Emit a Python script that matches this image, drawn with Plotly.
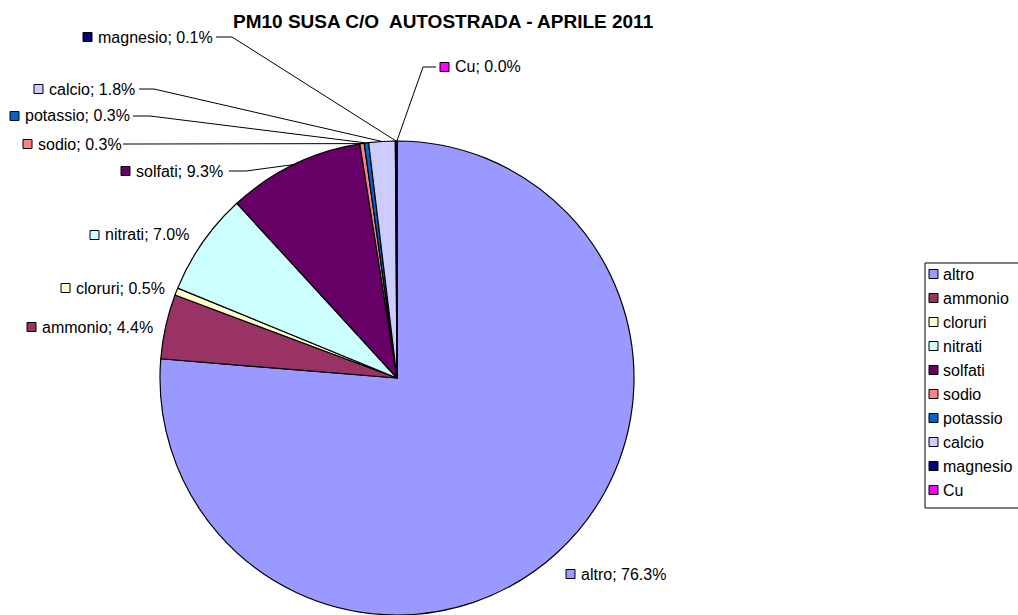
import math
import plotly.graph_objects as go

# ---------------- data ----------------
labels = ["altro", "ammonio", "cloruri", "nitrati", "solfati",
          "sodio", "potassio", "calcio", "magnesio", "Cu"]
values = [76.3, 4.4, 0.5, 7.0, 9.3, 0.3, 0.3, 1.8, 0.1, 0.01]
colors = ["#9999FF", "#993366", "#FFFFCC", "#CCFFFF", "#660066",
          "#FF8080", "#0066CC", "#CCCCFF", "#000080", "#FF00FF"]
title_text = "PM10 SUSA C/O  AUTOSTRADA - APRILE 2011"

# ---------------- layout constants (pixels) ----------------
W, H = 1018, 615
CX, CY, R = 397, 378, 237
FONT = "Liberation Sans, Arial, sans-serif"
LBL_SIZE = 16
SQ = 9

# label placement: square x, text x, y centre, leader (start x, bend x) or None
label_layout = {
    "altro":    (566, 579, 574, None),
    "ammonio":  (27, 40, 327, None),
    "cloruri":  (61, 74, 288, None),
    "nitrati":  (90, 103, 235, None),
    "solfati":  (121, 134, 171, (229, 246)),
    "sodio":    (23, 36, 144, (123, 140)),
    "potassio": (10, 23, 116, (133, 150)),
    "calcio":   (34, 47, 89, (139, 154)),
    "magnesio": (83, 96, 37, (216, 232)),
    "Cu":       (440, 453, 67, (436, 423)),
}
LEG_X, LEG_Y0, LEG_DY = 929, 274, 24
LEG_BOX = (925, 263, 1040, 508)


def px(x):
    return x / W


def py(y):
    return 1 - y / H


total = sum(values)
pcts = [v / total * 100 for v in values]

fig = go.Figure()
fig.add_trace(go.Pie(
    labels=labels, values=values, sort=False, direction="clockwise",
    rotation=0, textinfo="none", hoverinfo="label+percent",
    marker=dict(colors=colors, line=dict(color="black", width=1.2)),
    domain=dict(x=[px(CX - R), px(CX + R)], y=[py(CY + R), py(CY - R)]),
    showlegend=False,
))

shapes = []
annotations = []

# slice labels with leader lines
cum = 0.0
for lab, v, p, col in zip(labels, values, pcts, colors):
    mid = (cum + v / 2) / total
    cum += v
    th = 2 * math.pi * mid
    ex, ey = CX + R * math.sin(th), CY - R * math.cos(th)
    sqx, tx, y, leader = label_layout[lab]
    shapes.append(dict(type="rect", xref="paper", yref="paper",
                       x0=px(sqx), x1=px(sqx + SQ),
                       y0=py(y + SQ / 2), y1=py(y - SQ / 2),
                       fillcolor=col, line=dict(color="black", width=1)))
    annotations.append(dict(xref="paper", yref="paper", x=px(tx), y=py(y),
                            xanchor="left", yanchor="middle", showarrow=False,
                            text=f"{lab}; {p:.1f}%",
                            font=dict(family=FONT, size=LBL_SIZE, color="black")))
    if leader:
        x0, xb = leader
        path = (f"M {px(x0)} {py(y)} L {px(xb)} {py(y)} "
                f"L {px(ex)} {py(ey)}")
        shapes.append(dict(type="path", xref="paper", yref="paper", path=path,
                           line=dict(color="black", width=1)))

# custom legend
shapes.append(dict(type="rect", xref="paper", yref="paper",
                   x0=px(LEG_BOX[0]), x1=px(LEG_BOX[2]),
                   y0=py(LEG_BOX[3]), y1=py(LEG_BOX[1]),
                   fillcolor="white", line=dict(color="black", width=1),
                   layer="below"))
for i, (lab, col) in enumerate(zip(labels, colors)):
    y = LEG_Y0 + i * LEG_DY
    shapes.append(dict(type="rect", xref="paper", yref="paper",
                       x0=px(LEG_X), x1=px(LEG_X + SQ),
                       y0=py(y + SQ / 2), y1=py(y - SQ / 2),
                       fillcolor=col, line=dict(color="black", width=1)))
    annotations.append(dict(xref="paper", yref="paper", x=px(LEG_X + 12),
                            y=py(y), xanchor="left", yanchor="middle",
                            showarrow=False, text=lab,
                            font=dict(family=FONT, size=LBL_SIZE,
                                      color="black")))

# title
annotations.append(dict(xref="paper", yref="paper", x=px(443), y=py(21),
                        xanchor="center", yanchor="middle", showarrow=False,
                        text=f"<b>{title_text}</b>",
                        font=dict(family=FONT, size=19, color="black")))

fig.update_layout(
    width=W, height=H, margin=dict(l=0, r=0, t=0, b=0),
    paper_bgcolor="white", plot_bgcolor="white",
    shapes=shapes, annotations=annotations, showlegend=False,
)

fig.write_html("out.html", config={"displayModeBar": False},
               post_script="document.body.style.margin='0';"
                           "document.body.style.overflow='hidden';")
